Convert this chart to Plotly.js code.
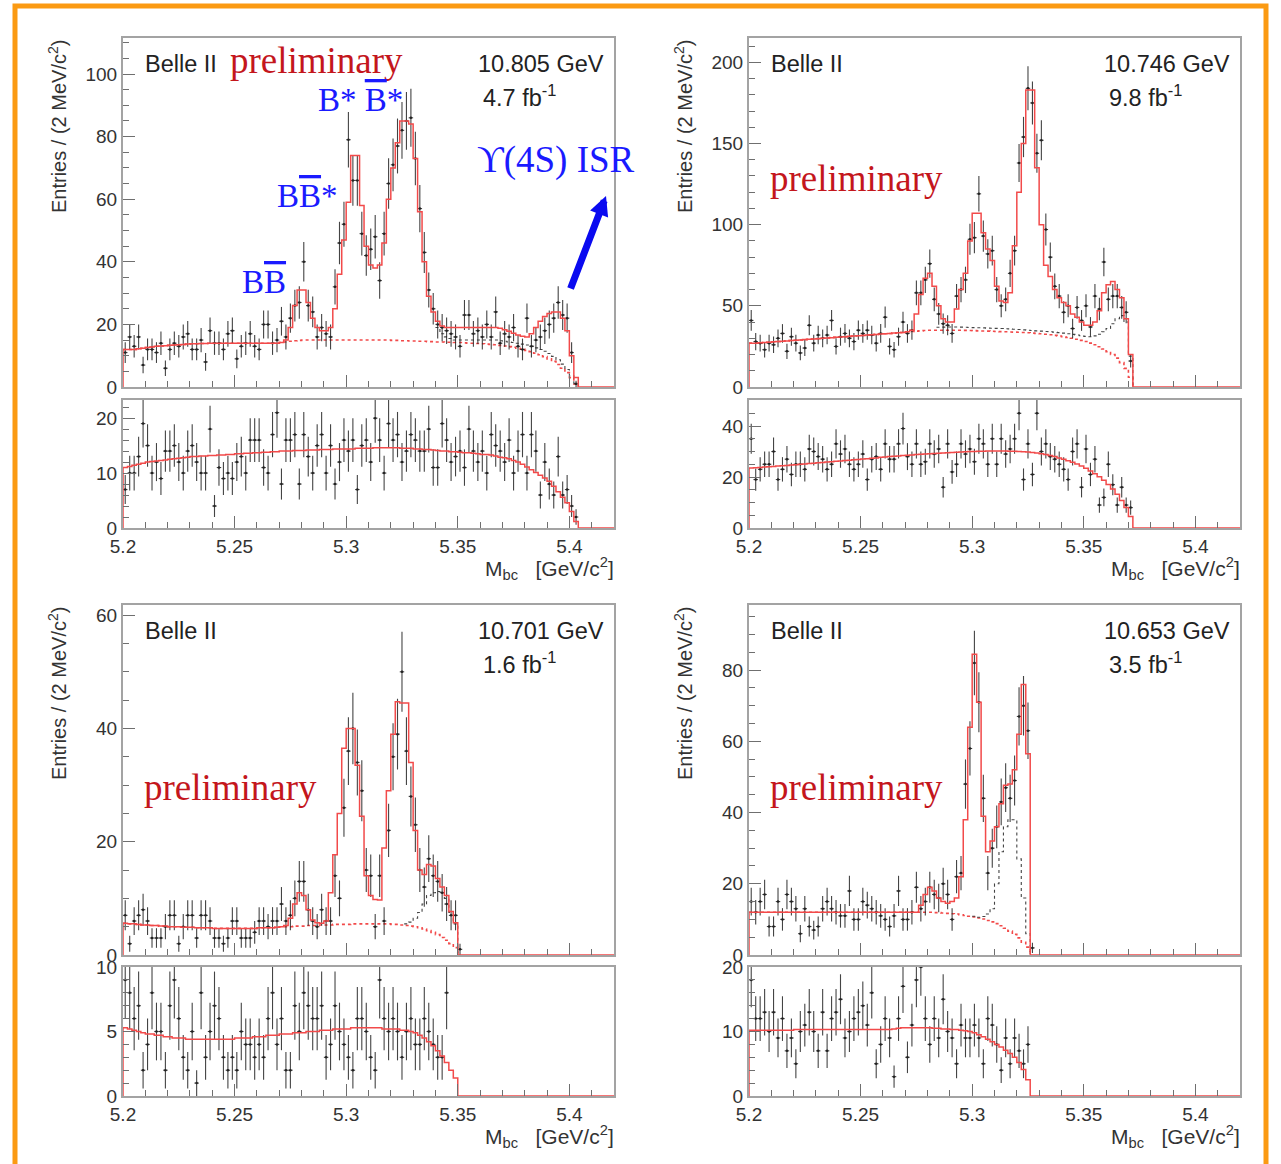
<!DOCTYPE html>
<html>
<head>
<meta charset="utf-8">
<script src="https://cdn.plot.ly/plotly-3.0.1.min.js"></script>
<style>html,body{margin:0;padding:0;background:#ffffff;}#chart{width:1281px;height:1164px;}</style>
</head>
<body>
<div id="chart"></div>
<script>
// Mbc histograms: 2 MeV/c^2 bins starting at 5.2 GeV/c^2
const BIN_START = 5.2;
const BIN_WIDTH = 0.002;
const X_MAX = 5.42;

// ---- 10.805 GeV, 4.7 fb^-1 ----
const countsA = [11,16,13,16,7,12,12,11,14,6,
  12,14,13,16,17,12,12,15,8,18,
  14,14,12,17,18,9,13,14,17,13,
  12,20,20,14,15,21,16,22,26,27,
  40,26,24,16,19,17,16,32,46,52,
  79,66,66,49,42,44,48,34,49,65,
  71,77,82,85,86,73,57,43,31,25,
  20,19,18,17,16,13,23,23,17,18,
  16,20,16,24,14,17,16,19,13,12,
  22,13,15,16,18,20,22,27,23,22,
  11,1];
const fitA = [12,12,12,12.2,12.4,12.6,12.8,13,13.1,13.2,
  13.3,13.4,13.5,13.6,13.7,13.8,13.8,13.9,13.9,14,
  14,14,14,14,14,14,14,14,14,14,
  14,14,14,14,14,14.2,15,19,26,31,
  31,27,22,19,18,18,19,25,36,47,
  59,74,74,58,45,39,38,39,46,60,
  70,78,85,85,84,73,56,40,29,24,
  21,19.5,19,19,19,19,19,19,19,19,
  19,19,19,19,18.8,18.3,17.8,17.2,16.6,16.2,
  16,17,19,21,22.5,23.5,24,24,22,18,
  10,3];
const bkgA = [12,12,12,12.2,12.4,12.6,12.8,13,13.1,13.2,
  13.3,13.4,13.5,13.6,13.7,13.8,13.8,13.9,13.9,14,
  14,14,14,14,14,14,14,14,14,14,
  14,14,14,14,14,14.2,14.4,14.6,14.8,14.9,
  15,15,15,15,15,15,15,15,15,15,
  15,15,15,15,15,15,15,15,15,15,
  14.9,14.9,14.8,14.8,14.7,14.7,14.6,14.6,14.5,14.5,
  14.4,14.4,14.3,14.3,14.2,14.2,14.1,14,14,13.9,
  13.8,13.7,13.6,13.5,13.3,13.1,12.9,12.7,12.4,12.1,
  11.7,11.3,10.8,10.3,9.7,9,8.2,7.2,6,4.6,
  3,1];
const compA_first = 70;
const compA = [19,17,16,15.5,15,15,15,15,15,15,
  15,15,15,15,14.8,14.6,14.4,14.2,14,13.7,
  13.4,13,12.5,12,11.4,10.7,9.8,8.7,7.3,5.6,
  3.6,1.2];
const ctrlA = [7,10,10,13,19,15,10,12,9,14,
  14,15,12,10,14,15,12,10,10,18,
  4,11,9,10,9,12,13,10,16,16,
  16,11,10,17,21,8,16,16,17,8,
  17,13,10,15,17,10,15,8,12,16,
  14,16,7,15,16,12,20,16,10,19,
  16,17,12,14,17,16,14,14,18,11,
  11,19,16,12,13,14,11,18,14,12,
  14,10,17,15,14,12,16,10,14,17,
  10,17,14,6,12,8,6,13,6,7,
  4,2];
const ctrlFitA = [11,11.2,11.4,11.6,11.8,12,12.1,12.2,12.3,12.4,
  12.5,12.6,12.7,12.8,12.9,13,13,13.1,13.1,13.2,
  13.2,13.3,13.3,13.4,13.4,13.5,13.5,13.6,13.6,13.7,
  13.7,13.8,13.8,13.9,13.9,14,14,14,14.1,14.1,
  14.1,14.2,14.2,14.2,14.3,14.3,14.3,14.4,14.4,14.4,
  14.4,14.4,14.5,14.5,14.5,14.5,14.6,14.6,14.6,14.6,
  14.6,14.6,14.5,14.5,14.5,14.4,14.4,14.3,14.3,14.2,
  14.1,14,14,13.9,13.9,13.8,13.7,13.7,13.6,13.5,
  13.4,13.4,13.3,13.1,12.9,12.8,12.6,12.3,12,11.6,
  11.1,10.6,10.1,9.6,9.1,8.5,7.6,6.6,5.6,4.6,
  3,1.2];

// ---- 10.746 GeV, 9.8 fb^-1 ----
const countsB = [41,28,27,23,27,26,30,33,22,31,
  27,21,24,38,27,32,30,32,41,25,
  31,33,30,28,35,33,35,32,27,33,
  43,25,23,31,40,33,35,58,58,66,
  76,54,45,39,38,33,56,60,66,91,
  92,119,93,82,84,60,50,54,70,84,
  138,154,184,175,144,152,97,80,62,56,
  46,50,36,49,41,50,37,56,48,77,
  54,56,56,49,46,16];
const fitB = [27,27,27.2,27.4,27.6,27.8,28,28.2,28.4,28.6,
  28.8,29,29.2,29.4,29.6,29.8,30,30.2,30.4,30.6,
  30.8,31,31.2,31.4,31.6,31.8,32,32.2,32.4,32.6,
  32.8,33,33.2,33.4,33.6,34,35,45,57,67,
  70,62,50,42,40,40,48,60,70,90,
  107,107,95,85,78,62,53,52,58,87,
  120,150,183,183,135,100,75,68,60,55,
  52,50,45,43,40,38,38,40,47,58,
  63,65,60,55,42,20];
const bkgB = [27,27,27.2,27.4,27.6,27.8,28,28.2,28.4,28.6,
  28.8,29,29.2,29.4,29.6,29.8,30,30.2,30.4,30.6,
  30.8,31,31.2,31.4,31.6,31.8,32,32.2,32.4,32.6,
  32.8,33,33.2,33.4,33.6,34,34.2,34.4,34.6,34.8,
  35,35,35,35,35,35,35,35,34.9,34.8,
  34.7,34.6,34.5,34.4,34.3,34.2,34.1,34,33.9,33.8,
  33.7,33.6,33.4,33.2,33,32.8,32.5,32.2,31.8,31.4,
  31,30.5,30,29.4,28.7,28,27,26,24.8,23.4,
  21.8,20,17.8,15,11.5,6];
const compB_first = 42;
const compB = [36.8,36.9,37,37,37,36.9,36.8,36.7,36.6,36.5,
  36.4,36.3,36.2,36.1,36,35.9,35.8,35.6,35.4,35.2,
  35,34.8,34.6,34.4,34.2,34,33.8,33.5,33.2,32.8,
  32.4,32,31.6,31.2,31,31.5,32.5,34,36,39,
  42,44,40,19];
const ctrlB = [35,19,23,25,25,30,19,23,27,21,
  25,25,23,31,30,28,27,23,25,33,
  29,31,25,23,25,29,19,27,28,23,
  33,27,27,33,39,28,25,33,25,26,
  33,29,31,16,33,22,25,33,29,31,
  26,35,33,25,35,25,35,29,31,35,
  45,19,33,21,45,30,33,28,27,25,
  23,19,30,33,16,31,21,27,9,12,
  25,17,9,16,9,8];
const ctrlFitB = [23.5,23.6,23.7,23.9,24,24.1,24.3,24.4,24.5,24.7,
  24.8,25,25.1,25.3,25.4,25.6,25.7,25.9,26,26.2,
  26.3,26.5,26.6,26.8,26.9,27.1,27.2,27.4,27.5,27.7,
  27.8,28,28.1,28.2,28.4,28.5,28.6,28.8,28.9,29,
  29.1,29.2,29.3,29.4,29.5,29.6,29.7,29.8,29.9,30,
  30,30.1,30.1,30.2,30.2,30.2,30.2,30.2,30.1,30.1,
  30,29.9,29.8,29.6,29.4,29.1,28.8,28.4,28,27.5,
  27,26.4,25.8,25.1,24.3,23.4,22.4,21.3,20.1,18.7,
  17.1,15.3,13.2,10.8,8,4.5];

// ---- 10.701 GeV, 1.6 fb^-1 ----
const countsC = [7,2,6,7,8,6,3,3,3,5,
  7,7,2,5,7,7,3,7,7,6,
  3,3,2,3,6,6,3,3,3,4,
  6,6,5,6,6,9,6,7,10,13,
  13,8,6,5,8,6,6,14,10,26,
  36,40,34,29,15,14,5,14,6,22,
  35,39,50,36,28,23,15,12,17,14,
  13,11,9,7,7,1];
const fitC = [5.6,5.5,5.5,5.4,5.3,5.3,5.2,5.2,5.1,5.1,
  5,5,5,4.9,4.9,4.9,4.8,4.8,4.8,4.8,
  4.7,4.7,4.7,4.7,4.7,4.7,4.7,4.7,4.7,4.7,
  4.8,4.8,4.8,4.8,4.9,5,5.2,6.5,9,11,
  10.5,8,6.2,5.7,5.6,6,11,17.7,25,36.5,
  40,40,33.5,24.5,14,10.5,9.8,9.7,18.9,29,
  39,44.7,44.5,44.5,34,22,15,14.2,16,15.7,
  13.5,12,10.5,7.7,5.7];
const bkgC = [5.6,5.5,5.5,5.4,5.3,5.3,5.2,5.2,5.1,5.1,
  5,5,5,4.9,4.9,4.9,4.8,4.8,4.8,4.8,
  4.7,4.7,4.7,4.7,4.7,4.7,4.7,4.7,4.7,4.7,
  4.8,4.8,4.8,4.8,4.9,5,5,5,5.1,5.1,
  5.1,5.2,5.2,5.2,5.3,5.3,5.3,5.4,5.4,5.4,
  5.4,5.5,5.5,5.5,5.5,5.5,5.5,5.5,5.5,5.5,
  5.4,5.4,5.3,5.2,5.1,5,4.8,4.6,4.3,4,
  3.6,3.1,2.6,2,1.3];
const compC_first = 63;
const compC = [5.5,5.8,6.5,7.5,9,10.5,11,11.2,11,10,7.5,5.5];
const ctrlC = [9,8,6,7,2,4,8,5,5,2,
  7,9,6,3,2,5,1,8,3,5,
  7,6,3,2,3,2,5,4,4,3,
  4,3,6,8,4,6,2,2,7,5,
  8,7,6,6,7,3,4,7,5,4,
  3,2,6,6,5,3,2,9,6,5,
  6,5,3,5,6,4,4,6,5,4,
  3,3,8];
const ctrlFitC = [5.3,5.2,5.1,5,4.9,4.8,4.8,4.7,4.7,4.6,
  4.6,4.5,4.5,4.5,4.4,4.4,4.4,4.4,4.4,4.4,
  4.4,4.4,4.4,4.4,4.4,4.5,4.5,4.5,4.5,4.6,
  4.6,4.6,4.7,4.7,4.7,4.8,4.8,4.8,4.9,4.9,
  4.9,5,5,5,5.1,5.1,5.1,5.2,5.2,5.2,
  5.2,5.3,5.3,5.3,5.3,5.3,5.3,5.3,5.2,5.2,
  5.2,5.2,5.1,5.1,5,4.9,4.7,4.5,4.2,3.9,
  3.5,3.1,2.6,2,1.4];

// ---- 10.653 GeV, 3.5 fb^-1 ----
const countsD = [15,12,15,17,8,8,15,10,17,15,
  13,6,13,8,7,8,13,15,13,12,
  11,11,18,10,10,15,14,13,12,11,
  10,8,11,18,10,10,12,19,13,15,
  19,17,16,20,17,10,22,23,48,58,
  82,71,44,23,30,36,43,47,44,49,
  67,70,63,2];
const fitD = [12,12,12,12,12,12,12,12,12,12,
  12,12,12,12,12,12,12,12,12,12,
  12,12,12,12,12,12,12,12,12,12,
  12,12,12,12,12,12,12,12,14,17,
  19,18,16,15,14.5,15,16,22,38,64,
  84.5,71,39,29,32,36,42.5,47.7,48,52,
  62,76,56.5];
const bkgD = [12,12,12,12,12,12,12,12,12,12,
  12,12,12,12,12,12,12,12,12,12,
  12,12,12,12,12,12,12,12,12,12,
  12,12,12,12,12,12,12,12,12,12,
  12,11.9,11.9,11.8,11.7,11.6,11.5,11.3,11.1,10.9,
  10.7,10.4,10.1,9.7,9.3,8.8,8.2,7.5,6.7,5.8,
  4.8,3.6,2.2];
const compD_first = 50;
const compD = [10.9,10.6,10.8,11.5,13,20,29,36,38,38,27,16,6];
const ctrlD = [18,12,12,13,10,13,9,12,7,9,
  5,10,11,13,10,7,13,7,12,13,
  15,9,10,12,13,14,11,16,5,8,
  12,9,3,12,17,6,11,18,20,12,
  8,12,9,15,10,9,5,11,9,9,
  11,9,5,12,11,8,4,9,5,9,
  7,5,8];
const ctrlFitD = [10.2,10.2,10.2,10.2,10.2,10.2,10.2,10.2,10.2,10.2,
  10.3,10.3,10.3,10.3,10.3,10.3,10.3,10.3,10.3,10.3,
  10.3,10.3,10.3,10.3,10.3,10.3,10.3,10.3,10.3,10.3,
  10.3,10.3,10.4,10.5,10.6,10.6,10.6,10.6,10.6,10.6,
  10.6,10.5,10.5,10.4,10.4,10.3,10.3,10.2,10.1,10,
  9.8,9.5,9.2,8.8,8.4,8,7.6,7.1,6.6,6,
  5.2,4.1,2.5];

// Panel labels
const energies = ['10.805 GeV', '10.746 GeV', '10.701 GeV', '10.653 GeV'];
const lumis = ['4.7 fb<sup>-1</sup>', '9.8 fb<sup>-1</sup>', '1.6 fb<sup>-1</sup>', '3.5 fb<sup>-1</sup>'];

// ---------------- drawing ----------------
const W = 1281, H = 1164;
const px = v => v / W;
const py = v => 1 - v / H;

const RED = '#f24a4a';
const SANS = 'Liberation Sans, Arial, Helvetica, sans-serif';
const SERIF = 'Liberation Serif, Times New Roman, serif';

function edge(i) { return +(BIN_START + i * BIN_WIDTH).toFixed(4); }

function stepTrace(vals, firstBin, xa, ya, line, fromZero, toEnd) {
  const x = [], y = [];
  if (fromZero) { x.push(edge(firstBin)); y.push(0); }
  vals.forEach((v, i) => { x.push(edge(firstBin + i)); y.push(v); });
  x.push(edge(firstBin + vals.length)); y.push(0);
  if (toEnd) { x.push(X_MAX); y.push(0); }
  return { type: 'scatter', mode: 'lines', x, y, xaxis: xa, yaxis: ya,
    line: Object.assign({ shape: 'hv' }, line), hoverinfo: 'skip', showlegend: false };
}

function pointTrace(counts, xa, ya) {
  const x = [], y = [], e = [];
  counts.forEach((n, i) => {
    if (n > 0) { x.push(BIN_START + (i + 0.5) * BIN_WIDTH); y.push(n); e.push(Math.sqrt(n)); }
  });
  const c = 'rgba(35,35,35,0.85)';
  return { type: 'scatter', mode: 'markers', x, y, xaxis: xa, yaxis: ya,
    marker: { symbol: 'circle', size: 2.5, color: '#222' },
    error_y: { type: 'data', array: e, visible: true, color: c, thickness: 1.1, width: 0 },
    error_x: { type: 'constant', value: BIN_WIDTH / 2, visible: true, color: c, thickness: 1.1, width: 0 },
    hoverinfo: 'skip', showlegend: false };
}

const panels = [
  { col: 0, row: 0, counts: countsA, fit: fitA, bkg: bkgA, comp: compA, compFirst: compA_first,
    ctrl: ctrlA, ctrlFit: ctrlFitA, yMax: 111.5, dy: 20, dyMinor: 5, cMax: 23.3, cdy: 10, cdyMinor: 2 },
  { col: 1, row: 0, counts: countsB, fit: fitB, bkg: bkgB, comp: compB, compFirst: compB_first,
    ctrl: ctrlB, ctrlFit: ctrlFitB, yMax: 215, dy: 50, dyMinor: 10, cMax: 50.2, cdy: 20, cdyMinor: 5 },
  { col: 0, row: 1, counts: countsC, fit: fitC, bkg: bkgC, comp: compC, compFirst: compC_first,
    ctrl: ctrlC, ctrlFit: ctrlFitC, yMax: 61.8, dy: 20, dyMinor: 5, cMax: 10, cdy: 5, cdyMinor: 1 },
  { col: 1, row: 1, counts: countsD, fit: fitD, bkg: bkgD, comp: compD, compFirst: compD_first,
    ctrl: ctrlD, ctrlFit: ctrlFitD, yMax: 98.3, dy: 20, dyMinor: 5, cMax: 20, cdy: 10, cdyMinor: 2 }
];

const colPx = [[123, 614], [749, 1240]];
const mainPx = [[38, 387], [605, 955]];
const ctrlPx = [[400, 528], [967, 1096]];

const traces = [];
const layout = {
  width: W, height: H,
  margin: { l: 0, r: 0, t: 0, b: 0 },
  paper_bgcolor: '#ffffff', plot_bgcolor: '#ffffff',
  showlegend: false,
  annotations: [], shapes: []
};

function xAxis(dom, anchor, labels) {
  return { domain: dom, anchor, range: [BIN_START, X_MAX], tick0: 5.2, dtick: 0.05,
    ticks: 'inside', ticklen: 12, tickwidth: 1, tickcolor: '#6f6f6f',
    minor: { ticks: 'inside', ticklen: 6, dtick: 0.01, tick0: 5.2, tickwidth: 1, tickcolor: '#6f6f6f' },
    showline: true, mirror: true, linecolor: '#a3a3a3', linewidth: 2,
    showgrid: false, zeroline: false, showticklabels: labels,
    tickfont: { family: SANS, size: 19, color: '#333' }, fixedrange: true };
}
function yAxis(dom, anchor, max, dtick, minor) {
  return { domain: dom, anchor, range: [0, max], tick0: 0, dtick,
    ticks: 'inside', ticklen: 12, tickwidth: 1, tickcolor: '#6f6f6f',
    minor: { ticks: 'inside', ticklen: 6, dtick: minor, tick0: 0, tickwidth: 1, tickcolor: '#6f6f6f' },
    showline: true, mirror: true, linecolor: '#a3a3a3', linewidth: 2,
    showgrid: false, zeroline: false,
    tickfont: { family: SANS, size: 19, color: '#333' }, fixedrange: true };
}

panels.forEach((p, k) => {
  const nMain = 2 * k + 1, nCtrl = 2 * k + 2;
  const sfx = n => (n === 1 ? '' : String(n));
  const xm = 'x' + sfx(nMain), ym = 'y' + sfx(nMain);
  const xc = 'x' + sfx(nCtrl), yc = 'y' + sfx(nCtrl);
  const xd = [px(colPx[p.col][0]), px(colPx[p.col][1])];
  const ymd = [py(mainPx[p.row][1]), py(mainPx[p.row][0])];
  const ycd = [py(ctrlPx[p.row][1]), py(ctrlPx[p.row][0])];

  layout['xaxis' + sfx(nMain)] = xAxis(xd, ym, false);
  layout['yaxis' + sfx(nMain)] = yAxis(ymd, xm, p.yMax, p.dy, p.dyMinor);
  layout['xaxis' + sfx(nCtrl)] = xAxis(xd, yc, true);
  layout['yaxis' + sfx(nCtrl)] = yAxis(ycd, xc, p.cMax, p.cdy, p.cdyMinor);

  // signal region: data, total fit, background and extra component
  traces.push(stepTrace(p.bkg, 0, xm, ym, { color: RED, width: 1.6, dash: 'dot' }, false, false));
  traces.push(stepTrace(p.comp, p.compFirst, xm, ym, { color: '#444', width: 1.1, dash: 'dot' }, false, false));
  traces.push(pointTrace(p.counts, xm, ym));
  traces.push(stepTrace(p.fit, 0, xm, ym, { color: RED, width: 1.5 }, true, true));

  // control sample
  traces.push(pointTrace(p.ctrl, xc, yc));
  traces.push(stepTrace(p.ctrlFit, 0, xc, yc, { color: RED, width: 1.5 }, true, true));

  const left = colPx[p.col][0], right = colPx[p.col][1];
  const top = mainPx[p.row][0];

  // y-axis title
  layout.annotations.push({ xref: 'paper', yref: 'paper', x: px(left - 66), y: py(top + 89),
    text: 'Entries / (2 MeV/c<sup>2</sup>)', textangle: -90, showarrow: false,
    xanchor: 'center', yanchor: 'middle', font: { family: SANS, size: 20, color: '#333' } });
  // x-axis title
  layout.annotations.push({ xref: 'paper', yref: 'paper', x: px(right + 2), y: py(ctrlPx[p.row][1] + 40),
    text: 'M<sub>bc</sub>\u00a0\u00a0\u00a0[GeV/c<sup>2</sup>]', showarrow: false,
    xanchor: 'right', yanchor: 'middle', font: { family: SANS, size: 21, color: '#333' } });
  // experiment, energy, luminosity
  layout.annotations.push({ xref: 'paper', yref: 'paper', x: px(left + 20), y: py(top + 26),
    text: 'Belle II', showarrow: false, xanchor: 'left', yanchor: 'middle',
    font: { family: SANS, size: 23.5, color: '#222' } });
  layout.annotations.push({ xref: 'paper', yref: 'paper', x: px(right - 8), y: py(top + 26),
    text: energies[k], showarrow: false, xanchor: 'right', yanchor: 'middle',
    font: { family: SANS, size: 23.5, color: '#222' } });
  layout.annotations.push({ xref: 'paper', yref: 'paper', x: px(right - 133), y: py(top + 58),
    text: lumis[k], showarrow: false, xanchor: 'left', yanchor: 'middle',
    font: { family: SANS, size: 23.5, color: '#222' } });
});

// "preliminary" stamps
const prelim = [[228, 60], [768, 178], [142, 787], [768, 787]];
prelim.forEach(([x, y]) => {
  layout.annotations.push({ xref: 'paper', yref: 'paper', x: px(x), y: py(y),
    text: 'preliminary', showarrow: false, xanchor: 'left', yanchor: 'middle',
    font: { family: SERIF, size: 37, color: '#c4161c' } });
});

// peak labels in the 10.805 GeV panel
const BLUE = '#1a1aff';
const ob = 'B<span style="text-decoration:overline">B</span>';
const peakLabels = [
  ['B* <span style="text-decoration:overline">B</span>*', 316, 100, 33],
  [ob + '*', 275, 196, 33],
  [ob, 240, 282, 33],
  ['\u03D2(4S) ISR', 475, 160, 37]
];
peakLabels.forEach(([t, x, y, s]) => {
  layout.annotations.push({ xref: 'paper', yref: 'paper', x: px(x), y: py(y),
    text: t, showarrow: false, xanchor: 'left', yanchor: 'middle',
    font: { family: SERIF, size: s, color: BLUE } });
});
layout.annotations.push({ xref: 'paper', yref: 'paper', x: px(606), y: py(196),
  ax: -36, ay: 94, axref: 'pixel', ayref: 'pixel', text: '', showarrow: true,
  arrowhead: 2, arrowsize: 0.55, arrowwidth: 7, arrowcolor: '#0a0af0' });

// orange frame
layout.shapes.push({ type: 'rect', xref: 'paper', yref: 'paper', layer: 'above',
  x0: px(15), x1: px(1266), y0: py(1180), y1: py(6),
  line: { color: '#fb9a12', width: 5 } });

Plotly.newPlot('chart', traces, layout, { staticPlot: true, displayModeBar: false });
</script>
</body>
</html>
